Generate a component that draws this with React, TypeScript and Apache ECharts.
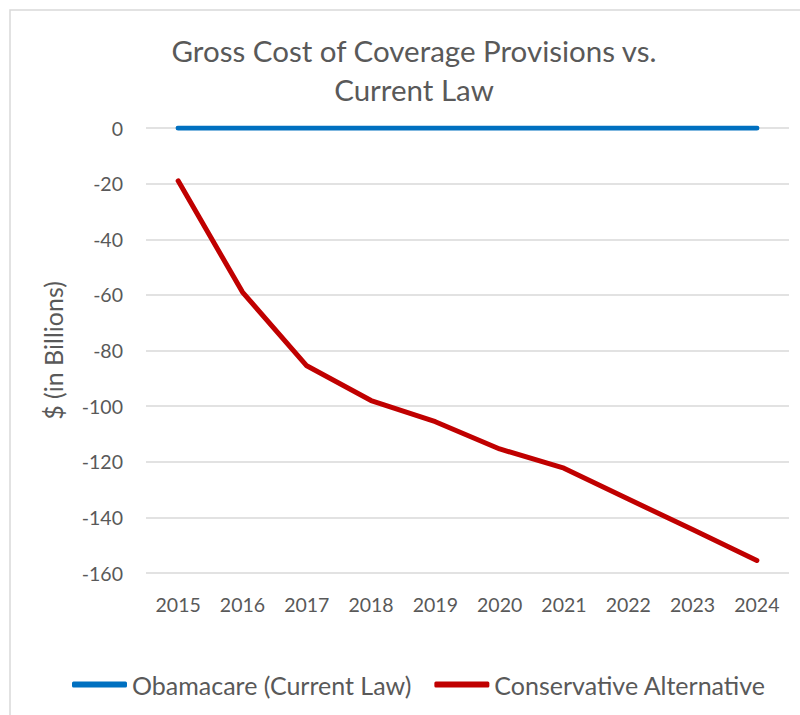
import React, { useEffect, useRef } from "react";
import * as echarts from "echarts";

const years = ["2015", "2016", "2017", "2018", "2019", "2020", "2021", "2022", "2023", "2024"];
const obamacare = [0, 0, 0, 0, 0, 0, 0, 0, 0, 0];
const conservative = [-19, -59, -85.5, -98, -105.6, -115.4, -122.3, -133.4, -144.4, -155.5];
const titleLines = "Gross Cost of Coverage Provisions vs.\nCurrent Law";
const yAxisName = "$ (in Billions)";

const FONT = "Lato";
const TEXT = "#595959";

export default function App() {
  const ref = useRef<HTMLDivElement>(null);
  useEffect(() => {
    document.body.style.margin = "0";
    const chart = echarts.init(ref.current!, null, { renderer: "svg" });
    chart.setOption({
      animation: false,
      backgroundColor: "#ffffff",
      textStyle: { fontFamily: FONT, color: TEXT },
      graphic: [
        {
          type: "rect",
          shape: { x: 10, y: 10, width: 800, height: 720 },
          style: { fill: "none", stroke: "#d9d9d9", lineWidth: 1.5 },
          silent: true,
        },
      ],
      title: {
        text: titleLines,
        left: 409,
        textAlign: "center",
        top: 26,
        textStyle: {
          fontFamily: FONT,
          fontSize: 29.5,
          fontWeight: "normal",
          color: TEXT,
          lineHeight: 39,
        },
      },
      legend: {
        left: 67,
        top: 667,
        icon: "roundRect",
        itemWidth: 55,
        itemHeight: 6,
        itemGap: 23,
        textStyle: { fontFamily: FONT, fontSize: 25, color: TEXT },
        data: ["Obamacare (Current Law)", "Conservative Alternative"],
      },
      grid: { left: 146, right: 11, top: 128, bottom: 142, containLabel: false },
      xAxis: {
        type: "category",
        data: years,
        boundaryGap: true,
        axisLine: { show: false },
        axisTick: { show: false },
        axisLabel: { fontFamily: FONT, fontSize: 19.5, color: TEXT, margin: 21 },
      },
      yAxis: {
        type: "value",
        min: -160,
        max: 0,
        interval: 20,
        name: yAxisName,
        nameLocation: "middle",
        nameGap: 81,
        nameTextStyle: { fontFamily: FONT, fontSize: 25, color: TEXT },
        axisLine: { show: false },
        axisTick: { show: false },
        axisLabel: { fontFamily: FONT, fontSize: 19.5, color: TEXT, margin: 23 },
        splitLine: { lineStyle: { color: "#d9d9d9", width: 1.5 } },
      },
      series: [
        {
          name: "Obamacare (Current Law)",
          type: "line",
          data: obamacare,
          symbol: "none",
          color: "#0070c0",
          lineStyle: { color: "#0070c0", width: 5, cap: "round" },
        },
        {
          name: "Conservative Alternative",
          type: "line",
          data: conservative,
          symbol: "none",
          color: "#c00000",
          lineStyle: { color: "#c00000", width: 5, cap: "round", join: "round" },
        },
      ],
    });
    return () => chart.dispose();
  }, []);
  return (
    <div
      ref={ref}
      style={{ position: "absolute", left: 0, top: 0, width: 800, height: 715 }}
    />
  );
}
